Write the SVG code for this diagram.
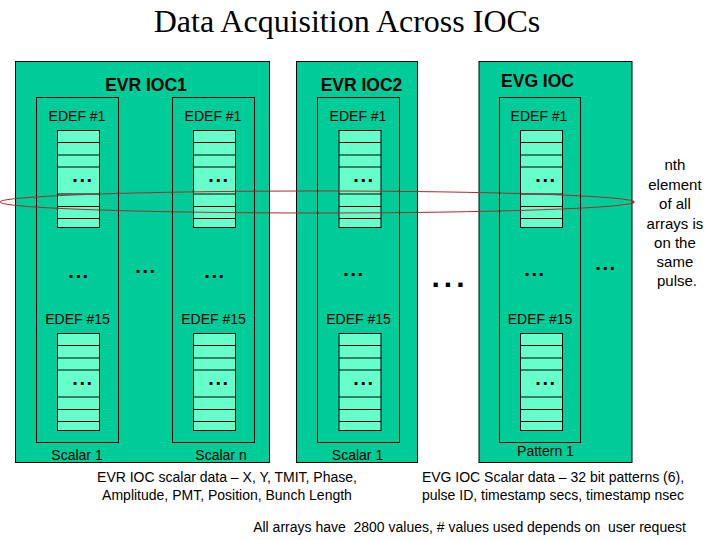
<svg xmlns="http://www.w3.org/2000/svg" xmlns:xlink="http://www.w3.org/1999/xlink" width="720" height="540" viewBox="0 0 720 540">
<style>
.ioc{fill:#00CC99;stroke:#000;stroke-width:1}
.edef{fill:none;stroke:#000;stroke-width:1}
.cell{fill:#66FFCC;stroke:#000;stroke-width:1}
.row{stroke:#000;stroke-width:1}
.t{font-family:"Liberation Sans",Arial,sans-serif;fill:#000;text-anchor:middle}
.hd{font-size:17.5px;font-weight:bold}
.lb{font-size:14px}
.note{font-size:14px}
.side{font-size:15px}
.dots{font-family:"Liberation Sans",Arial,sans-serif;font-weight:bold;font-size:20px;letter-spacing:1.6px;text-anchor:middle}
.big{font-size:30px;letter-spacing:4px}
.title{font-family:"Liberation Serif","Times New Roman",serif;font-size:32px;text-anchor:middle}
</style>
<defs>
<g id="arr">
<rect class="cell" x="0" y="0" width="42" height="97"/>
<line class="row" x1="0" y1="12" x2="42" y2="12"/>
<line class="row" x1="0" y1="24.5" x2="42" y2="24.5"/>
<line class="row" x1="0" y1="36.5" x2="42" y2="36.5"/>
<line class="row" x1="0" y1="63.5" x2="42" y2="63.5"/>
<line class="row" x1="0" y1="76" x2="42" y2="76"/>
<line class="row" x1="0" y1="88" x2="42" y2="88"/>
</g>
</defs>
<rect width="720" height="540" fill="#fff"/>
<text class="title" x="347" y="32">Data Acquisition Across IOCs</text>

<g id="evr-ioc1">
<rect class="ioc" x="15.5" y="61.5" width="254" height="401"/>
<text class="t hd" x="146" y="90.5">EVR IOC1</text>
<rect class="edef" x="36.5" y="97.5" width="82" height="345"/>
<rect class="edef" x="172.5" y="97.5" width="82" height="345"/>
<text class="t lb" x="77" y="121">EDEF #1</text>
<text class="t lb" x="213" y="121">EDEF #1</text>
<use xlink:href="#arr" x="57.5" y="130.5"/>
<use xlink:href="#arr" x="193.5" y="130.5"/>
<text class="dots" x="83" y="182">...</text>
<text class="dots" x="219" y="182">...</text>
<text class="dots" x="79" y="278">...</text>
<text class="dots" x="215" y="278">...</text>
<text class="dots" x="146" y="273">...</text>
<text class="t lb" x="77.5" y="324">EDEF #15</text>
<text class="t lb" x="213.5" y="324">EDEF #15</text>
<use xlink:href="#arr" x="57.5" y="333.5"/>
<use xlink:href="#arr" x="193.5" y="333.5"/>
<text class="dots" x="83" y="385">...</text>
<text class="dots" x="219" y="385">...</text>
<text class="t lb" x="77" y="460">Scalar 1</text>
<text class="t lb" x="221" y="460">Scalar n</text>
</g>

<g id="evr-ioc2">
<rect class="ioc" x="296.5" y="61.5" width="121" height="401"/>
<text class="t hd" x="361.5" y="91">EVR IOC2</text>
<rect class="edef" x="317.5" y="97.5" width="82" height="345"/>
<text class="t lb" x="358" y="121">EDEF #1</text>
<use xlink:href="#arr" x="339" y="130.5"/>
<text class="dots" x="364" y="182">...</text>
<text class="dots" x="354" y="276">...</text>
<text class="t lb" x="358.5" y="324">EDEF #15</text>
<use xlink:href="#arr" x="339" y="333.5"/>
<text class="dots" x="364" y="385">...</text>
<text class="t lb" x="357.5" y="460">Scalar 1</text>
</g>

<text class="dots big" x="450" y="287">...</text>

<g id="evg-ioc">
<rect class="ioc" x="479" y="61.5" width="153" height="401"/>
<text class="t hd" x="537.5" y="87">EVG IOC</text>
<rect class="edef" x="499.5" y="97.5" width="81" height="345"/>
<text class="t lb" x="539" y="121">EDEF #1</text>
<use xlink:href="#arr" x="520.5" y="130.5"/>
<text class="dots" x="546" y="182">...</text>
<text class="dots" x="535" y="276">...</text>
<text class="dots" x="606" y="270">...</text>
<text class="t lb" x="540" y="324">EDEF #15</text>
<use xlink:href="#arr" x="520.5" y="333.5"/>
<text class="dots" x="546" y="385">...</text>
<text class="t lb" x="545.5" y="456">Pattern 1</text>
</g>

<g id="connectors">
<ellipse cx="317" cy="202" rx="317" ry="11" fill="none" stroke="#B02828" stroke-width="1"/>
<circle cx="633" cy="202" r="1.5" fill="#B02828"/>
</g>

<g id="notes">
<text class="t side" x="677">
<tspan x="677" y="170">nth</tspan>
<tspan x="677" y="189.5">element</tspan>
<tspan x="677" y="209">of all</tspan>
<tspan x="677" y="228.5">arrays is</tspan>
<tspan x="677" y="248">on the</tspan>
<tspan x="677" y="267">same</tspan>
<tspan x="677" y="286">pulse.</tspan>
</text>
<text class="t note" x="227" y="482">EVR IOC scalar data – X, Y, TMIT, Phase,</text>
<text class="t note" x="227" y="500">Amplitude, PMT, Position, Bunch Length</text>
<text class="t note" x="553" y="482">EVG IOC Scalar data – 32 bit patterns (6),</text>
<text class="t note" x="553" y="500">pulse ID, timestamp secs, timestamp nsec</text>
<text class="t note" x="469.5" y="532" xml:space="preserve">All arrays have  2800 values, # values used depends on  user request</text>
</g>
</svg>
